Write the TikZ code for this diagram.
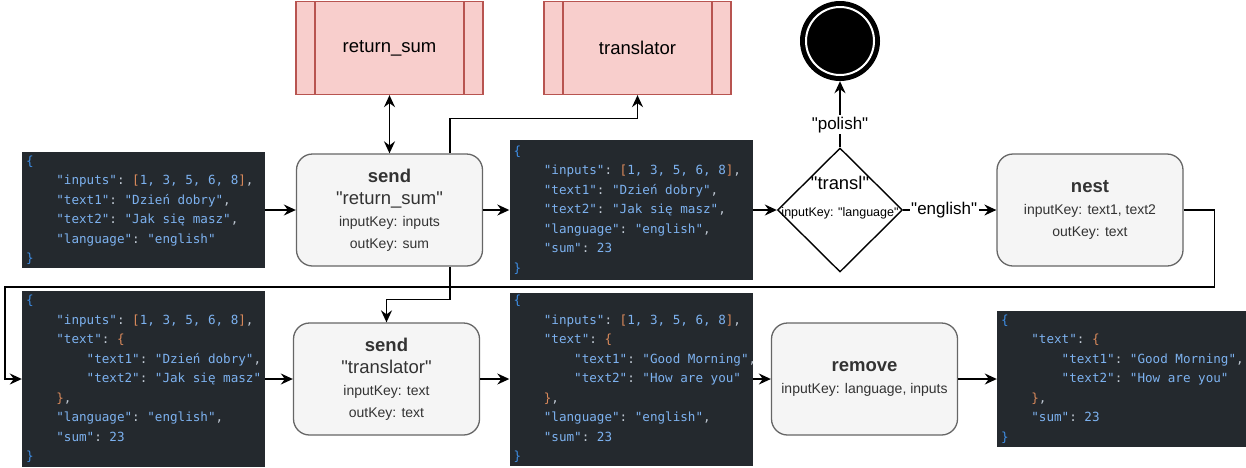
\documentclass[tikz,border=0pt]{standalone}
\usepackage{fontspec}
\setmainfont{Liberation Sans}
\newfontfamily\boxfont{Liberation Sans}
\newfontfamily\codefont{DejaVu Sans Mono}[WordSpace={1,0,0}]
\usepackage{xcolor}
\usetikzlibrary{positioning, arrows.meta, shapes.geometric}

\definecolor{codebg}{HTML}{24292E}
\definecolor{codekey}{HTML}{7DB2F0}
\definecolor{codebrace}{HTML}{3E8EE6}
\definecolor{codeorange}{HTML}{D9895B}
\definecolor{codepunct}{HTML}{BFC8D3}
\definecolor{boxfill}{HTML}{F5F5F5}
\definecolor{boxline}{HTML}{666666}
\definecolor{boxtext}{HTML}{333333}
\definecolor{svcfill}{HTML}{F8CECC}
\definecolor{svcline}{HTML}{B85450}

\newcommand{\jk}[1]{\textcolor{codekey}{#1}}
\newcommand{\jo}[1]{\textcolor{codeorange}{#1}}
\newcommand{\jb}[1]{\textcolor{codebrace}{#1}}
\newcommand{\js}{\phantom{0}}
\newcommand{\ind}{\phantom{0000}}
\newcommand{\bigtxt}[1]{{\fontsize{18.5}{22}\selectfont #1}}

\tikzset{
  json/.style={fill=codebg, text=codepunct, align=left, text width=235pt,
    inner xsep=4pt, inner ysep=0pt, font=\codefont\fontsize{12.6}{19.5}\selectfont},
  proc/.style={rectangle, rounded corners=16pt, draw=boxline, fill=boxfill,
    line width=1.3pt, text=boxtext, minimum width=186pt, minimum height=112pt,
    align=center, font=\boxfont\fontsize{14}{22}\selectfont},
  service/.style={rectangle, draw=svcline, fill=svcfill, line width=1.3pt,
    minimum width=187pt, minimum height=93pt, font=\boxfont\fontsize{18.5}{22}\selectfont,
    path picture={\draw[svcline, line width=1.3pt]
      ([xshift=19pt]path picture bounding box.north west) -- ([xshift=19pt]path picture bounding box.south west)
      ([xshift=-19pt]path picture bounding box.north east) -- ([xshift=-19pt]path picture bounding box.south east);}},
  choice/.style={diamond, draw=black, fill=white, line width=1.4pt,
    minimum width=125pt, minimum height=124pt, inner sep=0pt},
  stopstate/.style={circle, fill=black, minimum size=80pt, inner sep=0pt},
  flux/.style={line width=1.5pt, ->},
  lab/.style={fill=white, inner sep=1.5pt, font=\boxfont\fontsize{17}{20}\selectfont},
}

\begin{document}
\begin{tikzpicture}[x=1pt, y=-1pt, on grid, >={Stealth[length=12pt,width=11pt,inset=4pt]}]
    \useasboundingbox (0,0) rectangle (1246,467);

    % Première ligne
    \node[json, minimum height=116pt] (json1) at (143.5,210) {\jb{\{}\\
        \ind\jk{"inputs"}:\js\jo{[}\jk{1,\js3,\js5,\js6,\js8}\jo{]},\\
        \ind\jk{"text1"}:\js\jk{"Dzień\js dobry"},\\
        \ind\jk{"text2"}:\js\jk{"Jak\js się\js masz"},\\
        \ind\jk{"language"}:\js\jk{"english"}\\
        \jb{\}}};
    \node[proc, right=246pt of json1] (send1) {\bigtxt{\textbf{send}}\\\bigtxt{"return\_sum"}\\inputKey: inputs\\outKey: sum};
    \node[service, above=162pt of send1] (retsum) {return\_sum};
    \node[service, right=248pt of retsum] (trans) {translator};
    \node[json, minimum height=140pt, right=241.5pt of send1] (json2) {\jb{\{}\\
        \ind\jk{"inputs"}:\js\jo{[}\jk{1,\js3,\js5,\js6,\js8}\jo{]},\\
        \ind\jk{"text1"}:\js\jk{"Dzień\js dobry"},\\
        \ind\jk{"text2"}:\js\jk{"Jak\js się\js masz"},\\
        \ind\jk{"language"}:\js\jk{"english"},\\
        \ind\jk{"sum"}:\js\jk{23}\\
        \jb{\}}};
    \node[choice, right=209pt of json2] (transl) {};
    \node[align=center, font=\boxfont\fontsize{12.5}{27}\selectfont] (transltxt) at ([yshift=12.5pt]transl.center)
        {{\fontsize{18.4}{27}\selectfont "transl"}\\inputKey: "language"};
    \node[stopstate, above=169pt of transl] (stop) {};
    \draw[white, line width=2pt] (stop.center) circle (34pt);
    \node[proc, right=250pt of transl] (nest) {\bigtxt{\textbf{nest}}\\inputKey: text1, text2\\outKey: text};

    % Deuxième ligne
    \node[json, minimum height=176pt, below=169pt of json1] (json3) {\jb{\{}\\
        \ind\jk{"inputs"}:\js\jo{[}\jk{1,\js3,\js5,\js6,\js8}\jo{]},\\
        \ind\jk{"text"}:\js\jo{\{}\\
        \ind\ind\jk{"text1"}:\js\jk{"Dzień\js dobry"},\\
        \ind\ind\jk{"text2"}:\js\jk{"Jak\js się\js masz"}\\
        \ind\jo{\}},\\
        \ind\jk{"language"}:\js\jk{"english"},\\
        \ind\jk{"sum"}:\js\jk{23}\\
        \jb{\}}};
    \node[proc, right=243pt of json3] (send2) {\bigtxt{\textbf{send}}\\\bigtxt{"translator"}\\inputKey: text\\outKey: text};
    \node[json, minimum height=173pt, right=244.5pt of send2] (json4) {\jb{\{}\\
        \ind\jk{"inputs"}:\js\jo{[}\jk{1,\js3,\js5,\js6,\js8}\jo{]},\\
        \ind\jk{"text"}:\js\jo{\{}\\
        \ind\ind\jk{"text1"}:\js\jk{"Good\js Morning"},\\
        \ind\ind\jk{"text2"}:\js\jk{"How\js are\js you"}\\
        \ind\jo{\}},\\
        \ind\jk{"language"}:\js\jk{"english"},\\
        \ind\jk{"sum"}:\js\jk{23}\\
        \jb{\}}};
    \node[proc, right=233.5pt of json4] (remove) {\bigtxt{\textbf{remove}}\\inputKey: language, inputs};
    \node[json, text width=241pt, minimum height=136pt, right=257pt of remove] (json5) {\jb{\{}\\
        \ind\jk{"text"}:\js\jo{\{}\\
        \ind\ind\jk{"text1"}:\js\jk{"Good\js Morning"},\\
        \ind\ind\jk{"text2"}:\js\jk{"How\js are\js you"}\\
        \ind\jo{\}},\\
        \ind\jk{"sum"}:\js\jk{23}\\
        \jb{\}}};

    % Transitions
    \path[flux]
    (json1) edge (send1)
    (send1) edge (json2)
    (json2) edge (transl)
    (transl) edge node[lab, pos=0.34] {"polish"} (stop)
    (transl) edge node[lab, pos=0.44] {"english"} (nest)
    (json3) edge (send2)
    (send2) edge (json4)
    (json4) edge (remove)
    (remove) edge (json5);
    \path[flux, <->] (send1) edge (retsum);
    \draw[flux] ([xshift=60.5pt]send1.north) -- ++(0,-35) -| (trans.south);
    \draw[flux] ([xshift=60.5pt]send1.south) -- ++(0,33) -| (send2.north);
    \draw[flux] (nest.east) -- ++(31,0) -- ++(0,77) -| ([xshift=-17pt]json3.west) -- (json3.west);

\end{tikzpicture}
\end{document}
